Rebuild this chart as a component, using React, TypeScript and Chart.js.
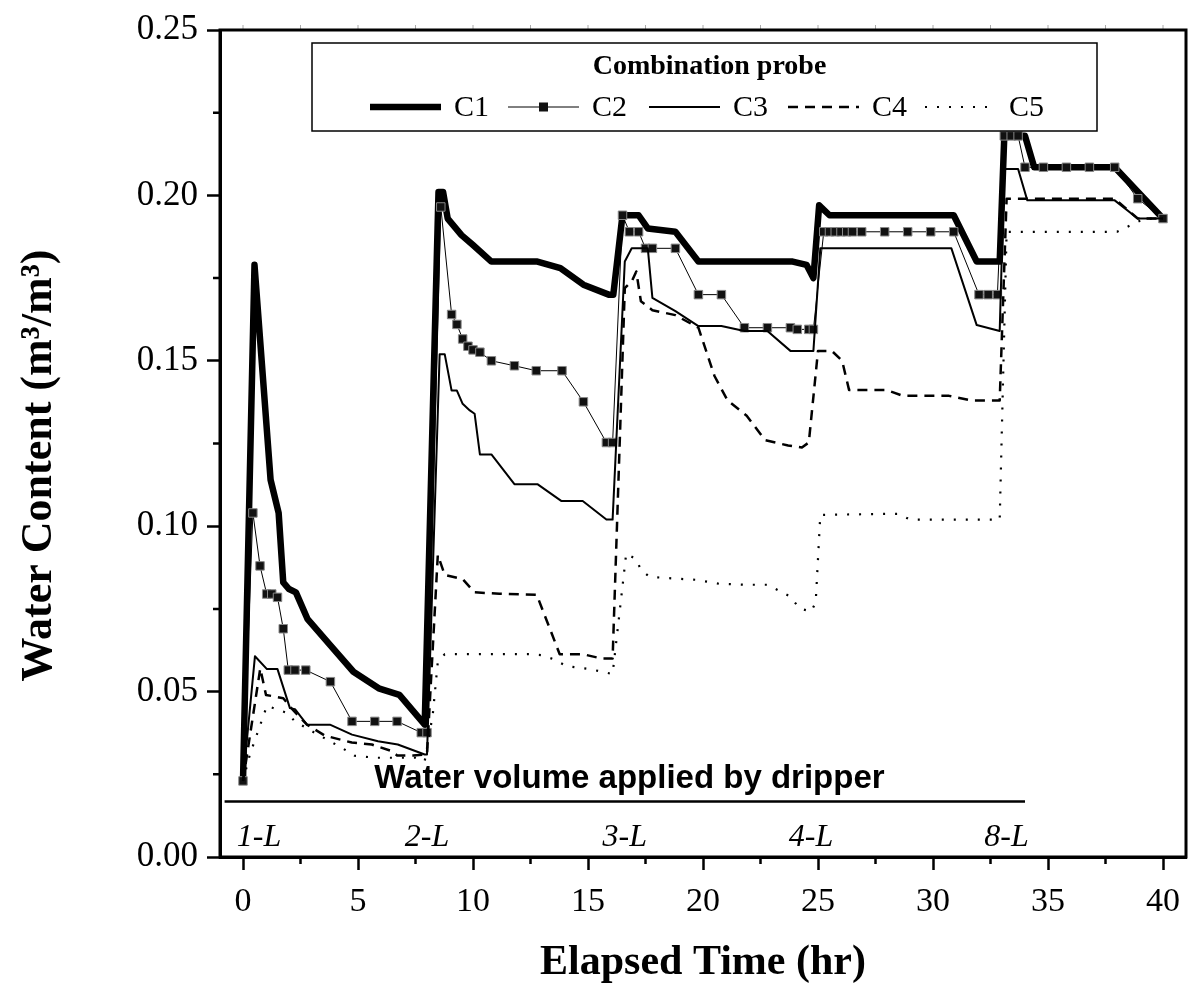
import React, { useEffect, useRef } from 'react';
import { Chart, registerables } from 'chart.js';

Chart.register(...registerables);

// ---- data (elapsed time in hr, water content in m3/m3) ----
const c1Time = [0, 0.5, 1.2, 1.55, 1.75, 2.0, 2.3, 2.8, 3.8, 4.8, 5.9, 6.8, 7.9, 8.5, 8.7, 8.9, 9.5, 10.0, 10.8, 12.8, 13.8, 14.8, 15.9, 16.1, 16.5, 17.2, 17.6, 18.8, 19.8, 23.9, 24.5, 24.8, 25.05, 25.5, 30.9, 31.9, 32.9, 33.1, 34.0, 34.4, 37.9, 40.0];
const c1Content = [0.023, 0.179, 0.114, 0.104, 0.083, 0.081, 0.080, 0.072, 0.064, 0.056, 0.051, 0.049, 0.040, 0.201, 0.201, 0.193, 0.188, 0.185, 0.180, 0.180, 0.178, 0.173, 0.170, 0.170, 0.194, 0.194, 0.190, 0.189, 0.180, 0.180, 0.179, 0.175, 0.197, 0.194, 0.194, 0.180, 0.180, 0.218, 0.218, 0.2085, 0.2085, 0.193];

const c2Time = [0, 0.43, 0.74, 1.03, 1.25, 1.5, 1.75, 1.97, 2.26, 2.73, 3.8, 4.74, 5.73, 6.7, 7.75, 8.0, 8.6, 9.07, 9.3, 9.55, 9.78, 10.0, 10.3, 10.8, 11.8, 12.75, 13.87, 14.8, 15.8, 16.07, 16.5, 16.8, 17.2, 17.5, 17.8, 18.8, 19.8, 20.8, 21.8, 22.8, 23.8, 24.1, 24.6, 24.8, 25.25, 25.5, 25.75, 26.0, 26.25, 26.5, 26.9, 27.9, 28.9, 29.9, 30.9, 32.0, 32.4, 32.8, 33.1, 33.4, 33.7, 34.0, 34.8, 35.8, 36.8, 37.9, 38.9, 40.0];
const c2Content = [0.023, 0.104, 0.088, 0.0795, 0.0795, 0.0785, 0.069, 0.0565, 0.0565, 0.0565, 0.053, 0.041, 0.041, 0.041, 0.0376, 0.0376, 0.1965, 0.164, 0.161, 0.1566, 0.1544, 0.1533, 0.1526, 0.150, 0.1485, 0.147, 0.147, 0.1376, 0.1253, 0.1253, 0.194, 0.189, 0.189, 0.184, 0.184, 0.184, 0.170, 0.170, 0.160, 0.160, 0.160, 0.1595, 0.1595, 0.1595, 0.189, 0.189, 0.189, 0.189, 0.189, 0.189, 0.189, 0.189, 0.189, 0.189, 0.189, 0.170, 0.170, 0.170, 0.218, 0.218, 0.218, 0.2085, 0.2085, 0.2085, 0.2085, 0.2085, 0.199, 0.193];

const c3Time = [0, 0.52, 1.04, 1.5, 2.04, 2.26, 2.78, 3.78, 4.74, 5.87, 6.73, 7.9, 8.0, 8.55, 8.77, 9.07, 9.3, 9.55, 9.86, 10.07, 10.3, 10.8, 11.8, 12.8, 13.85, 14.77, 15.8, 16.07, 16.6, 16.9, 17.6, 17.8, 18.8, 19.8, 20.8, 21.8, 22.8, 23.8, 24.8, 25.1, 30.8, 31.9, 32.9, 33.1, 33.7, 34.1, 37.9, 38.9, 40.0];
const c3Content = [0.023, 0.0607, 0.0568, 0.0568, 0.045, 0.0447, 0.040, 0.040, 0.037, 0.035, 0.034, 0.031, 0.031, 0.152, 0.152, 0.141, 0.141, 0.137, 0.135, 0.134, 0.1217, 0.1217, 0.1127, 0.1127, 0.1076, 0.1076, 0.102, 0.102, 0.180, 0.184, 0.184, 0.169, 0.165, 0.1605, 0.1605, 0.159, 0.159, 0.153, 0.153, 0.184, 0.184, 0.1608, 0.159, 0.208, 0.208, 0.1985, 0.1985, 0.193, 0.193];

const c4Time = [0, 0.75, 1.0, 1.75, 2.1, 2.78, 3.56, 4.73, 5.6, 6.47, 6.7, 7.4, 8.0, 8.47, 8.77, 9.55, 10.07, 11.15, 12.77, 13.77, 14.77, 15.6, 16.07, 16.6, 16.9, 17.1, 17.3, 17.8, 18.8, 19.8, 20.5, 21.07, 21.9, 22.7, 23.7, 24.3, 24.6, 25.0, 25.6, 26.05, 26.35, 27.1, 27.96, 28.7, 29.7, 30.7, 31.7, 32.9, 33.2, 37.9, 38.9, 40.0];
const c4Content = [0.023, 0.057, 0.049, 0.048, 0.045, 0.040, 0.0367, 0.0346, 0.034, 0.032, 0.0307, 0.0307, 0.031, 0.0913, 0.0853, 0.084, 0.080, 0.0796, 0.0793, 0.0613, 0.0613, 0.060, 0.060, 0.172, 0.174, 0.177, 0.168, 0.1653, 0.1638, 0.160, 0.1454, 0.138, 0.1334, 0.126, 0.1244, 0.1238, 0.1253, 0.153, 0.153, 0.150, 0.1412, 0.1412, 0.1412, 0.1394, 0.1394, 0.1394, 0.138, 0.138, 0.199, 0.199, 0.193, 0.193];

const c5Time = [0, 0.3, 1.04, 1.9, 2.26, 3.0, 4.3, 4.86, 5.8, 7.5, 7.9, 8.25, 8.47, 8.77, 12.46, 13.0, 13.5, 14.07, 15.07, 16.07, 16.66, 17.1, 17.3, 17.67, 18.7, 19.7, 20.7, 21.8, 22.8, 23.3, 23.8, 24.2, 24.7, 24.9, 25.1, 27.6, 28.5, 29.0, 32.9, 33.2, 38.0, 38.6, 39.2, 40.0];
const c5Content = [0.023, 0.031, 0.0457, 0.0436, 0.041, 0.038, 0.033, 0.0306, 0.030, 0.030, 0.029, 0.043, 0.059, 0.0613, 0.0613, 0.061, 0.0598, 0.0577, 0.0568, 0.0553, 0.0917, 0.090, 0.0868, 0.0847, 0.0842, 0.0838, 0.0826, 0.0823, 0.0823, 0.0805, 0.0787, 0.0751, 0.0742, 0.077, 0.1034, 0.1037, 0.1037, 0.102, 0.102, 0.189, 0.189, 0.191, 0.193, 0.193];

const seriesNames = ['C1', 'C2', 'C3', 'C4', 'C5'];
const legendTitle = 'Combination probe';
const yAxisTitle = 'Water Content (m³/m³)';
const xAxisTitle = 'Elapsed Time (hr)';

const xMajorTicks = [0, 5, 10, 15, 20, 25, 30, 35, 40];
const xMinorTicks = [2.5, 7.5, 12.5, 17.5, 22.5, 27.5, 32.5, 37.5];
const yMajorTicks = [0, 0.05, 0.1, 0.15, 0.2, 0.25];
const yMinorTicks = [0.025, 0.075, 0.125, 0.175, 0.225];

const doseLabels = ['1-L', '2-L', '3-L', '4-L', '8-L'];
const doseTimes = [0.7, 8.0, 16.6, 24.7, 33.2];
const doseLabelLevel = 0.006;
const dripperTitle = 'Water volume applied by dripper';
const dripperTitleTime = 16.8;
const dripperTitleLevel = 0.0237;
const dripperLineStart = -0.8;
const dripperLineEnd = 34.0;
const dripperLineLevel = 0.0168;

const SERIF = '"Liberation Serif", "Times New Roman", serif';
const SANS = '"Liberation Sans", Arial, sans-serif';

function pts(t: number[], v: number[]) {
  return t.map((x, i) => ({ x, y: v[i] }));
}

const styles = [
  { borderWidth: 6.5, borderDash: [] as number[] },
  { borderWidth: 1, borderDash: [] as number[] },
  { borderWidth: 2, borderDash: [] as number[] },
  { borderWidth: 2.5, borderDash: [10, 7] },
  { borderWidth: 2.2, borderDash: [2, 10] },
];

const overlay = {
  id: 'overlay',
  afterDraw(chart: any) {
    const { ctx, chartArea: a, scales } = chart;
    const x = scales.x;
    const y = scales.y;
    ctx.save();
    ctx.strokeStyle = '#000';
    // minor ticks
    ctx.lineWidth = 2.5;
    ctx.beginPath();
    for (const v of xMinorTicks) {
      const px = x.getPixelForValue(v);
      ctx.moveTo(px, a.bottom);
      ctx.lineTo(px, a.bottom + 7);
    }
    for (const v of yMinorTicks) {
      const py = y.getPixelForValue(v);
      ctx.moveTo(a.left - 7, py);
      ctx.lineTo(a.left, py);
    }
    ctx.stroke();
    // faint top ticks
    ctx.strokeStyle = '#aaa';
    ctx.lineWidth = 1;
    ctx.beginPath();
    for (const v of [...xMajorTicks, ...xMinorTicks]) {
      const px = x.getPixelForValue(v);
      ctx.moveTo(px, a.top - 5);
      ctx.lineTo(px, a.top);
    }
    ctx.stroke();
    // frame
    ctx.strokeStyle = '#000';
    ctx.lineWidth = 3;
    ctx.strokeRect(a.left, a.top, a.right - a.left, a.bottom - a.top);

    // y axis title
    ctx.fillStyle = '#000';
    ctx.save();
    ctx.translate(40, (a.top + a.bottom) / 2 + 22);
    ctx.rotate(-Math.PI / 2);
    ctx.font = `bold 44px ${SERIF}`;
    ctx.textAlign = 'center';
    ctx.textBaseline = 'middle';
    ctx.fillText(yAxisTitle, 0, 0);
    ctx.restore();

    // dripper annotation
    ctx.font = `bold 33px ${SANS}`;
    ctx.textAlign = 'center';
    ctx.textBaseline = 'middle';
    ctx.fillText(dripperTitle, x.getPixelForValue(dripperTitleTime), y.getPixelForValue(dripperTitleLevel));
    ctx.lineWidth = 2.5;
    ctx.beginPath();
    const ly = y.getPixelForValue(dripperLineLevel);
    ctx.moveTo(x.getPixelForValue(dripperLineStart), ly);
    ctx.lineTo(x.getPixelForValue(dripperLineEnd), ly);
    ctx.stroke();
    ctx.font = `italic 32px ${SERIF}`;
    doseLabels.forEach((lab, i) => {
      ctx.fillText(lab, x.getPixelForValue(doseTimes[i]), y.getPixelForValue(doseLabelLevel));
    });

    // legend
    const lx0 = a.left + 92;
    const lx1 = a.left + 877;
    const ly0 = a.top + 13;
    const ly1 = a.top + 101;
    ctx.fillStyle = '#fff';
    ctx.fillRect(lx0, ly0, lx1 - lx0, ly1 - ly0);
    ctx.strokeStyle = '#000';
    ctx.lineWidth = 1.5;
    ctx.strokeRect(lx0, ly0, lx1 - lx0, ly1 - ly0);
    ctx.fillStyle = '#000';
    ctx.font = `bold 28px ${SERIF}`;
    ctx.textAlign = 'center';
    ctx.fillText(legendTitle, (lx0 + lx1) / 2 + 5, ly0 + 24);
    const rowY = ly0 + 64;
    const itemStarts = [58, 196, 337, 476, 613];
    const sampleLen = 71;
    ctx.font = `30px ${SERIF}`;
    ctx.textAlign = 'left';
    chart.data.datasets.forEach((ds: any, i: number) => {
      const sx = lx0 + itemStarts[i];
      ctx.save();
      ctx.strokeStyle = '#000';
      ctx.lineWidth = ds.borderWidth;
      ctx.setLineDash(ds.borderDash || []);
      ctx.lineCap = 'butt';
      ctx.beginPath();
      ctx.moveTo(sx, rowY);
      ctx.lineTo(sx + sampleLen, rowY);
      ctx.stroke();
      if (ds.pointRadius > 0) {
        ctx.setLineDash([]);
        ctx.fillStyle = ds.pointBackgroundColor;
        const s = 9;
        ctx.fillRect(sx + sampleLen / 2 - s / 2, rowY - s / 2, s, s);
      }
      ctx.restore();
      ctx.fillText(ds.label, sx + sampleLen + 13, rowY + 1);
    });
    ctx.restore();
  },
};

export default function App() {
  const ref = useRef<HTMLCanvasElement | null>(null);
  useEffect(() => {
    if (!ref.current) return;
    const series = [
      pts(c1Time, c1Content),
      pts(c2Time, c2Content),
      pts(c3Time, c3Content),
      pts(c4Time, c4Content),
      pts(c5Time, c5Content),
    ];
    const chart = new Chart(ref.current, {
      type: 'line',
      data: {
        datasets: series.map((d, i) => ({
          label: seriesNames[i],
          data: d,
          borderColor: '#000',
          backgroundColor: '#000',
          borderWidth: styles[i].borderWidth,
          borderDash: styles[i].borderDash,
          borderJoinStyle: 'round',
          borderCapStyle: 'butt',
          pointRadius: i === 1 ? 6 : 0,
          pointHoverRadius: i === 1 ? 6 : 0,
          pointStyle: 'rect',
          pointBackgroundColor: '#111',
          pointBorderColor: '#888',
          pointBorderWidth: 1,
          tension: 0,
          fill: false,
          order: 5 - i,
        })) as any,
      },
      options: {
        animation: false,
        responsive: false,
        maintainAspectRatio: false,
        layout: { padding: { left: 0, right: 6, top: 25, bottom: 0 } },
        plugins: {
          legend: { display: false },
          tooltip: { enabled: false },
        },
        scales: {
          x: {
            type: 'linear',
            min: -1,
            max: 41,
            afterFit: (s: any) => { s.height = 131; },
            afterBuildTicks: (s: any) => { s.ticks = xMajorTicks.map((v) => ({ value: v })); },
            ticks: {
              color: '#000',
              font: { family: SERIF, size: 34 },
              padding: 12,
              maxRotation: 0,
              callback: (v: any) => String(v),
            },
            grid: { drawOnChartArea: false, drawTicks: true, tickLength: 13, tickWidth: 2.5, tickColor: '#000' },
            border: { display: true, color: '#000', width: 3 },
            title: {
              display: true,
              text: xAxisTitle,
              color: '#000',
              font: { family: SERIF, size: 42, weight: 'bold' },
              padding: { top: 0, bottom: 0 },
            },
          },
          y: {
            type: 'linear',
            min: 0,
            max: 0.25,
            afterFit: (s: any) => { s.width = 220; },
            afterBuildTicks: (s: any) => { s.ticks = yMajorTicks.map((v) => ({ value: v })); },
            ticks: {
              color: '#000',
              font: { family: SERIF, size: 35 },
              padding: 9,
              callback: (v: any) => Number(v).toFixed(2),
            },
            grid: { drawOnChartArea: false, drawTicks: true, tickLength: 13, tickWidth: 2.5, tickColor: '#000' },
            border: { display: true, color: '#000', width: 3 },
            title: { display: false },
          },
        },
      } as any,
      plugins: [overlay],
    });
    return () => chart.destroy();
  }, []);
  return (
    <div style={{ position: 'fixed', left: 0, top: 0, width: 1193, height: 988, background: '#fff' }}>
      <canvas ref={ref} width={1193} height={988} style={{ display: 'block' }} />
    </div>
  );
}
